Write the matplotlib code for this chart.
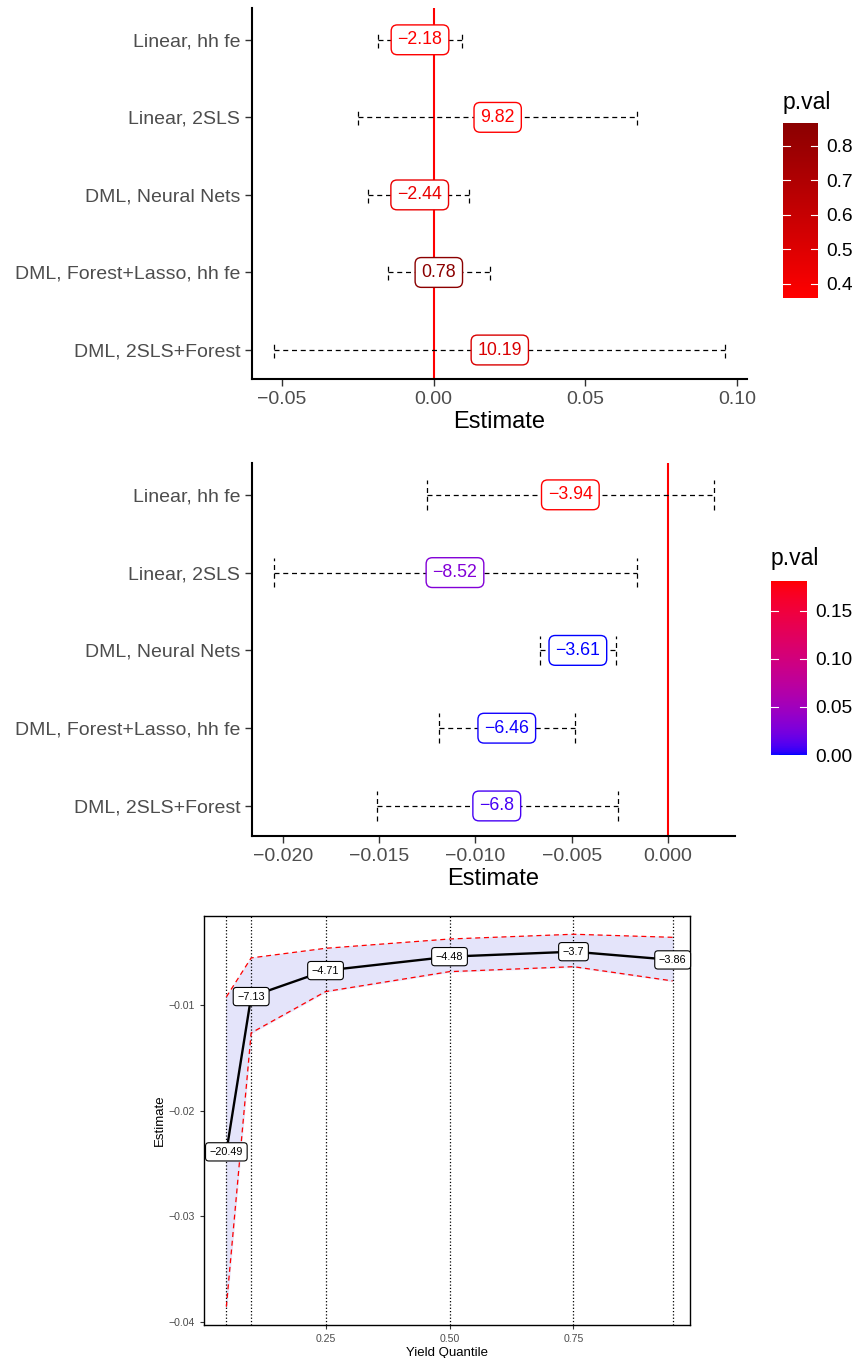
import numpy as np
import matplotlib
matplotlib.use("Agg")
import matplotlib.pyplot as plt
import matplotlib.colors as mcolors
from matplotlib.cm import ScalarMappable

plt.rcParams['font.family'] = ['Liberation Sans', 'DejaVu Sans']

# --- data -------------------------------------------------------------
models = ['Linear, hh fe', 'Linear, 2SLS', 'DML, Neural Nets',
          'DML, Forest+Lasso, hh fe', 'DML, 2SLS+Forest']

# panel 1
est1 = [-0.0045, 0.0211, -0.0046, 0.0017, 0.0218]
lo1 = [-0.0182, -0.0251, -0.0215, -0.0152, -0.0525]
hi1 = [0.0092, 0.0670, 0.0116, 0.0185, 0.0960]
lab1 = ['\u22122.18', '9.82', '\u22122.44', '0.78', '10.19']
p1 = [0.37, 0.36, 0.45, 0.867, 0.52]

# panel 2
est2 = [-0.00507, -0.01106, -0.00468, -0.00837, -0.00889]
lo2 = [-0.01253, -0.02048, -0.00665, -0.0119, -0.01513]
hi2 = [0.00239, -0.00161, -0.0027, -0.00483, -0.0026]
lab2 = ['\u22123.94', '\u22128.52', '\u22123.61', '\u22126.46', '\u22126.8']
p2 = [0.181, 0.03, 0.0005, 0.001, 0.008]

# panel 3
quant = [0.05, 0.10, 0.25, 0.50, 0.75, 0.95]
est3 = [-0.02391, -0.00921, -0.00675, -0.00543, -0.00496, -0.00574]
lo3 = [-0.03857, -0.01265, -0.00874, -0.00685, -0.00638, -0.00773]
hi3 = [-0.00924, -0.00555, -0.00464, -0.00376, -0.00331, -0.0036]
lab3 = ['\u221220.49', '\u22127.13', '\u22124.71', '\u22124.48', '\u22123.7', '\u22123.86']


# --- Lab gradient like ggplot's scale_colour_gradient ---------------------
M = np.array([[0.4124, 0.3576, 0.1805], [0.2126, 0.7152, 0.0722], [0.0193, 0.1192, 0.9505]])
WHITE = np.array([0.95047, 1.0, 1.08883])


def to_lab(c):
    rgb = np.array(mcolors.to_rgb(c))
    lin = np.where(rgb <= 0.04045, rgb / 12.92, ((rgb + 0.055) / 1.055) ** 2.4)
    xyz = M @ lin / WHITE
    d = 6 / 29
    f = np.where(xyz > d ** 3, np.cbrt(xyz), xyz / (3 * d * d) + 4 / 29)
    return np.array([116 * f[1] - 16, 500 * (f[0] - f[1]), 200 * (f[1] - f[2])])


def from_lab(lab):
    L, a, b = lab
    fy = (L + 16) / 116
    f = np.array([fy + a / 500, fy, fy - b / 200])
    d = 6 / 29
    xyz = np.where(f > d, f ** 3, 3 * d * d * (f - 4 / 29)) * WHITE
    lin = np.clip(np.linalg.inv(M) @ xyz, 0, 1)
    rgb = np.where(lin <= 0.0031308, 12.92 * lin, 1.055 * lin ** (1 / 2.4) - 0.055)
    return np.clip(rgb, 0, 1)


def lab_cmap(c0, c1):
    a, b = to_lab(c0), to_lab(c1)
    return mcolors.ListedColormap([from_lab(a + (b - a) * t) for t in np.linspace(0, 1, 256)])


cmap1 = lab_cmap('#FF0000', '#8B0000')
cmap2 = lab_cmap('#0000FF', '#FF0000')
norm1 = mcolors.Normalize(0.359, 0.867)
norm2 = mcolors.Normalize(0.0, 0.181)

fig = plt.figure(figsize=(8.62, 13.58), dpi=100)
ypos = np.arange(len(models))[::-1] + 1
dash = (0, (4, 3))


def coef_panel(rect, est, lo, hi, lab, p, cmap, norm, xlim, ylim, ticks, fmt, capw):
    ax = fig.add_axes(rect)
    ax.axvline(0, color='red', lw=1.5, zorder=1)
    ax.hlines(ypos, lo, hi, colors='black', linestyles=dash, lw=0.9, zorder=2)
    ax.vlines(lo, ypos - capw, ypos + capw, colors='black', linestyles=dash, lw=0.9, zorder=2)
    ax.vlines(hi, ypos - capw, ypos + capw, colors='black', linestyles=dash, lw=0.9, zorder=2)
    for x, y, t, pv in zip(est, ypos, lab, p):
        c = cmap(norm(pv))
        ax.text(x, y, t, ha='center', va='center', fontsize=12.8, color=c, zorder=3,
                bbox=dict(boxstyle='round,pad=0.36,rounding_size=0.35', fc='white', ec=c, lw=1))
    ax.set_xlim(*xlim)
    ax.set_ylim(*ylim)
    ax.set_yticks(ypos)
    ax.set_yticklabels(models)
    ax.set_xticks(ticks)
    ax.set_xticklabels([fmt.format(v).replace('-', '\u2212') for v in ticks])
    ax.tick_params(labelsize=14, colors='#4D4D4D', length=5, width=1)
    ax.tick_params(axis='both', which='both', color='#333333')
    for s in ['top', 'right']:
        ax.spines[s].set_visible(False)
    for s in ['left', 'bottom']:
        ax.spines[s].set_linewidth(1.5)
    ax.set_xlabel('Estimate', fontsize=17, labelpad=2)
    return ax


coef_panel([0.2923, 0.7209, 0.5743, 0.2732], est1, lo1, hi1, lab1, p1, cmap1, norm1,
           (-0.0599, 0.1033), (0.626, 5.41), [-0.05, 0.0, 0.05, 0.10], '{:.2f}', 0.1)
coef_panel([0.2923, 0.3844, 0.5604, 0.2747], est2, lo2, hi2, lab2, p2, cmap2, norm2,
           (-0.0216, 0.00348), (0.614, 5.41), [-0.020, -0.015, -0.010, -0.005, 0.0], '{:.3f}', 0.19)


def colorbar(rect, cmap, norm, ticks, fmt, title_y):
    cax = fig.add_axes(rect)
    cb = fig.colorbar(ScalarMappable(norm=norm, cmap=cmap), cax=cax)
    cb.outline.set_visible(False)
    cb.set_ticks(ticks)
    cb.set_ticklabels([fmt.format(t) for t in ticks])
    cax.tick_params(labelsize=13.8, colors='black', length=0, pad=6)
    tr = cax.get_yaxis_transform()
    for t in ticks:
        cax.plot([0, 0.2], [t, t], color='white', lw=0.8, transform=tr)
        cax.plot([0.8, 1.0], [t, t], color='white', lw=0.8, transform=tr)
    fig.text(rect[0], title_y, 'p.val', fontsize=16.5, ha='left', va='bottom')


colorbar([0.9084, 0.7806, 0.0406, 0.1289], cmap1, norm1, [0.4, 0.5, 0.6, 0.7, 0.8], '{:.1f}', 0.9164)
colorbar([0.8944, 0.444, 0.0418, 0.1281], cmap2, norm2, [0.0, 0.05, 0.10, 0.15], '{:.2f}', 0.5803)

# --- quantile panel ---------------------------------------------------
ax3 = fig.add_axes([0.2367, 0.0243, 0.5638, 0.3012])
for q in quant:
    ax3.axvline(q, color='black', ls=':', lw=0.9, zorder=1)
ax3.fill_between(quant, lo3, hi3, color='#E4E4FA', zorder=0)
ax3.plot(quant, lo3, color='red', ls=dash, lw=0.9, zorder=2)
ax3.plot(quant, hi3, color='red', ls=dash, lw=0.9, zorder=2)
ax3.plot(quant, est3, color='black', lw=1.7, zorder=3)
for x, y, t in zip(quant, est3, lab3):
    ax3.text(x, y, t, ha='center', va='center', fontsize=7.8, color='black', zorder=4,
             bbox=dict(boxstyle='round,pad=0.38,rounding_size=0.3', fc='white', ec='black', lw=0.8))
ax3.set_xlim(0.005, 0.985)
ax3.set_ylim(-0.0403, -0.00158)
ax3.set_xticks([0.25, 0.50, 0.75])
ax3.set_xticklabels(['0.25', '0.50', '0.75'])
ax3.set_yticks([-0.04, -0.03, -0.02, -0.01])
ax3.set_yticklabels(['\u22120.04', '\u22120.03', '\u22120.02', '\u22120.01'])
ax3.tick_params(labelsize=7.6, colors='#4D4D4D', length=3, width=0.8)
ax3.tick_params(axis='both', color='#333333')
for s in ax3.spines.values():
    s.set_linewidth(1.0)
ax3.set_xlabel('Yield Quantile', fontsize=9.5, labelpad=2)
ax3.set_ylabel('Estimate', fontsize=9.5, labelpad=2)

fig.savefig('out.png', dpi=100)
